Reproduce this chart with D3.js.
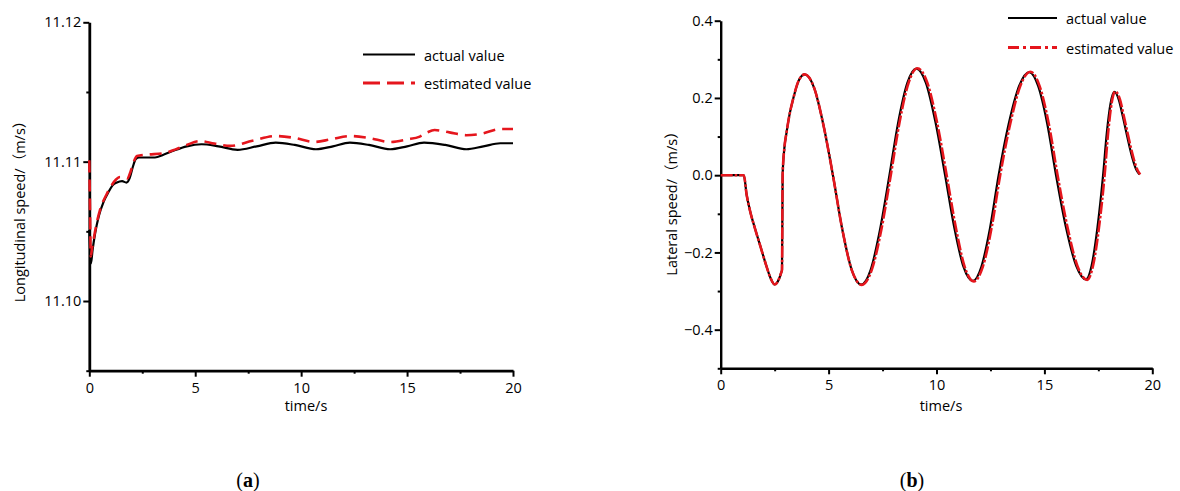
<!DOCTYPE html>
<html>
<head>
<meta charset="utf-8">
<script src="https://cdn.jsdelivr.net/npm/d3@7"></script>
<style>
  html, body { margin: 0; padding: 0; background: #fff; }
  svg { display: block; }
  .tick text { font-family: "Open Sans", "Noto Sans CJK SC", sans-serif; font-size: 14.5px; fill: #000; }
  .lbl { font-family: "Open Sans", "Noto Sans CJK SC", sans-serif; font-size: 14.5px; fill: #000; }
  .cap { font-family: "Liberation Serif", "DejaVu Serif", serif; font-size: 20px; fill: #000; }
</style>
</head>
<body>
<svg id="fig" width="1180" height="491"></svg>
<script>
// ---- Panel (a): longitudinal speed ----
const timeA = [0, 0.04, 0.08, 0.15, 0.28, 0.45, 0.67, 0.9, 1.1, 1.3, 1.55, 1.75, 1.9, 2.05, 2.2, 2.35, 2.7, 3.1, 3.5, 4.0, 4.6, 5.3, 6.1, 7.0, 7.9, 8.8, 9.7, 10.7, 11.5, 12.3, 13.2, 14.2, 15.0, 15.8, 16.8, 17.8, 18.6, 19.4, 20];
const lonActual = [11.1051, 11.1035, 11.1027, 11.1036, 11.1049, 11.1061, 11.1071, 11.1078, 11.1083, 11.1085, 11.1086, 11.1085, 11.1088, 11.1096, 11.1102, 11.1103, 11.1103, 11.1103, 11.1105, 11.1108, 11.1111, 11.11125, 11.1111, 11.11085, 11.1111, 11.11136, 11.1112, 11.11089, 11.1111, 11.11136, 11.1112, 11.11089, 11.1111, 11.11136, 11.1112, 11.11089, 11.1111, 11.11132, 11.11132];

const timeAEst = [0, 0.03, 0.07, 0.13, 0.2, 0.35, 0.5, 0.83, 1.05, 1.25, 1.45, 1.62, 1.8, 1.95, 2.1, 2.25, 2.7, 3.5, 4.1, 4.6, 5.2, 5.9, 6.65, 7.7, 8.8, 9.7, 10.6, 11.4, 12.3, 13.2, 14.2, 15.0, 15.6, 15.95, 16.3, 17.0, 17.8, 18.5, 19.4, 20];
const lonEstimated = [11.1101, 11.107, 11.1032, 11.1038, 11.1044, 11.1056, 11.1065, 11.1077, 11.1083, 11.1087, 11.1089, 11.1089, 11.1088, 11.1093, 11.11, 11.1104, 11.1105, 11.1106, 11.1109, 11.1112, 11.11148, 11.1113, 11.11113, 11.1115, 11.11184, 11.1117, 11.11141, 11.1116, 11.11184, 11.1117, 11.11141, 11.1116, 11.1118, 11.1121, 11.11227, 11.1121, 11.1119, 11.112, 11.11234, 11.11234];

const xTicksA = [0, 5, 10, 15, 20];
const xMinorA = [2.5, 7.5, 12.5, 17.5];
const yTicksA = [11.10, 11.11, 11.12];
const yMinorA = [11.095, 11.105, 11.115];

// ---- Panel (b): lateral speed ----
const timeB = [0, 1.07, 1.2, 1.35, 1.6, 1.85, 2.1, 2.3, 2.5, 2.65, 2.8, 2.84, 2.87, 2.95, 3.05, 3.2, 3.36, 3.6, 3.89, 4.33, 4.76, 5.2, 5.64, 6.07, 6.51, 6.95, 7.38, 7.82, 8.23, 8.65, 9.06, 9.51, 9.95, 10.4, 10.83, 11.25, 11.68, 12.08, 12.48, 12.88, 13.35, 13.83, 14.3, 14.71, 15.13, 15.54, 16.0, 16.47, 16.93, 17.19, 17.46, 17.72, 17.89, 18.07, 18.24, 18.45, 18.63, 18.8, 18.94, 19.1, 19.25, 19.4];
const latActual = [0, 0, -0.05, -0.09, -0.14, -0.186, -0.232, -0.265, -0.283, -0.275, -0.253, -0.245, 0, 0.07, 0.11, 0.16, 0.198, 0.243, 0.261, 0.226, 0.13, 0, -0.142, -0.245, -0.283, -0.245, -0.142, 0, 0.138, 0.239, 0.276, 0.239, 0.138, 0, -0.137, -0.237, -0.274, -0.237, -0.137, 0, 0.134, 0.231, 0.267, 0.231, 0.134, 0, -0.135, -0.234, -0.27, -0.234, -0.135, 0, 0.108, 0.187, 0.216, 0.195, 0.153, 0.11, 0.075, 0.04, 0.015, 0.002];

const timeBEst = [0, 1.07, 1.2, 1.35, 1.6, 1.85, 2.1, 2.3, 2.5, 2.65, 2.8, 2.84, 2.87, 2.95, 3.05, 3.2, 3.36, 3.6, 3.89, 4.33, 4.76, 5.2, 5.64, 6.07, 6.54, 7.0, 7.44, 7.88, 8.29, 8.71, 9.11, 9.57, 10.02, 10.47, 10.9, 11.31, 11.73, 12.14, 12.55, 12.95, 13.42, 13.89, 14.35, 14.77, 15.2, 15.61, 16.07, 16.53, 16.98, 17.25, 17.53, 17.79, 17.95, 18.12, 18.28, 18.5, 18.68, 18.85, 18.99, 19.15, 19.3, 19.44];
const latEstimated = [0, 0, -0.05, -0.09, -0.14, -0.186, -0.232, -0.265, -0.283, -0.275, -0.253, -0.245, 0, 0.07, 0.11, 0.16, 0.198, 0.243, 0.261, 0.226, 0.13, 0, -0.142, -0.245, -0.284, -0.245, -0.142, 0, 0.138, 0.24, 0.277, 0.24, 0.138, 0, -0.137, -0.238, -0.275, -0.238, -0.137, 0, 0.134, 0.232, 0.268, 0.232, 0.134, 0, -0.135, -0.235, -0.271, -0.235, -0.135, 0, 0.108, 0.188, 0.217, 0.196, 0.153, 0.11, 0.075, 0.04, 0.015, 0.002];

const xTicksB = [0, 5, 10, 15, 20];
const xMinorB = [2.5, 7.5, 12.5, 17.5];
const yTicksB = [-0.4, -0.2, 0.0, 0.2, 0.4];
const yMinorB = [-0.5, -0.3, -0.1, 0.1, 0.3];

const seriesNames = ["actual value", "estimated value"];
const RED = "#e5161d";

const svg = d3.select("#fig");

function drawPanel(opt) {
  const { x, y, xTicks, xMinor, yTicks, yMinor, yFmt, axisW, yTitle, yTitlePos, xTitlePos,
          act, est, estDash, legend, caption } = opt;
  const g = svg.append("g");

  // axes
  const xAxis = g.append("g").attr("transform", `translate(0,${y.range()[0]})`)
    .call(d3.axisBottom(x).tickValues(xTicks).tickSize(6).tickSizeOuter(0).tickFormat(d3.format("d")));
  xAxis.selectAll(".tick text").attr("dy", null).attr("y", 22);
  g.append("g").attr("transform", `translate(0,${y.range()[0]})`)
    .call(d3.axisBottom(x).tickValues(xMinor).tickSize(3).tickFormat(""))
    .call(s => s.select(".domain").remove());

  g.append("g").attr("transform", `translate(${x.range()[0]},0)`)
    .call(d3.axisLeft(y).tickValues(yTicks).tickSize(6).tickSizeOuter(0).tickPadding(2).tickFormat(yFmt));
  g.append("g").attr("transform", `translate(${x.range()[0]},0)`)
    .call(d3.axisLeft(y).tickValues(yMinor).tickSize(3).tickFormat(""))
    .call(s => s.select(".domain").remove());

  g.selectAll(".domain").attr("stroke", "#000").attr("stroke-width", axisW);
  g.selectAll(".tick line").attr("stroke", "#000").attr("stroke-width", 2);

  // titles
  g.append("text").attr("class", "lbl")
    .attr("transform", `translate(${yTitlePos[0]},${yTitlePos[1]}) rotate(-90)`)
    .attr("text-anchor", "middle").attr("dy", "0.35em").text(yTitle);
  g.append("text").attr("class", "lbl")
    .attr("x", xTitlePos[0]).attr("y", xTitlePos[1]).attr("text-anchor", "middle").text("time/s");

  // curves: actual first, estimate on top
  const line = d3.line().x(d => x(d[0])).y(d => y(d[1])).curve(d3.curveMonotoneX);
  g.append("path").datum(d3.zip(act.t, act.v))
    .attr("d", line).attr("fill", "none").attr("stroke", "#000").attr("stroke-width", 2.2);
  g.append("path").datum(d3.zip(est.t, est.v))
    .attr("d", line).attr("fill", "none").attr("stroke", RED).attr("stroke-width", 2.6)
    .attr("stroke-dasharray", estDash.plot);

  // legend
  const lg = g.append("g");
  seriesNames.forEach((name, i) => {
    const yy = legend.y + i * legend.step;
    lg.append("line").attr("x1", legend.x1).attr("x2", legend.x2).attr("y1", yy).attr("y2", yy)
      .attr("stroke", i === 0 ? "#000" : RED).attr("stroke-width", i === 0 ? 2.2 : 2.8)
      .attr("stroke-dasharray", i === 0 ? null : estDash.legend);
    lg.append("text").attr("class", "lbl").attr("x", legend.tx).attr("y", yy + 6).text(name);
  });

  // caption
  const cap = g.append("text").attr("class", "cap").attr("x", caption.x).attr("y", caption.y)
    .attr("text-anchor", "middle");
  cap.append("tspan").text("(");
  cap.append("tspan").attr("font-weight", "bold").text(caption.letter);
  cap.append("tspan").text(")");
}

drawPanel({
  x: d3.scaleLinear().domain([0, 20]).range([89.3, 513]),
  y: d3.scaleLinear().domain([11.095, 11.12]).range([370.7, 22.3]),
  xTicks: xTicksA, xMinor: xMinorA, yTicks: yTicksA, yMinor: yMinorA,
  yFmt: d3.format(".2f"), axisW: 2.8,
  yTitle: "Longitudinal speed/（m/s）", yTitlePos: [20, 208], xTitlePos: [306, 411],
  act: { t: timeA, v: lonActual }, est: { t: timeAEst, v: lonEstimated },
  estDash: { plot: "12,7", legend: "17,7" },
  legend: { x1: 363, x2: 415, y: 54.5, step: 28.5, tx: 424 },
  caption: { x: 248, y: 487, letter: "a" }
});

drawPanel({
  x: d3.scaleLinear().domain([0, 20]).range([720.7, 1152.3]),
  y: d3.scaleLinear().domain([-0.5, 0.4]).range([368.3, 20.7]),
  xTicks: xTicksB, xMinor: xMinorB, yTicks: yTicksB, yMinor: yMinorB,
  yFmt: d3.format(".1f"), axisW: 2.4,
  yTitle: "Lateral speed/（m/s）", yTitlePos: [672, 200], xTitlePos: [941, 411],
  act: { t: timeB, v: latActual }, est: { t: timeBEst, v: latEstimated },
  estDash: { plot: "12,2,2.5,2", legend: "11,4,3,4" },
  legend: { x1: 1008, x2: 1057, y: 18, step: 29.5, tx: 1066 },
  caption: { x: 912, y: 487, letter: "b" }
});
</script>
</body>
</html>
